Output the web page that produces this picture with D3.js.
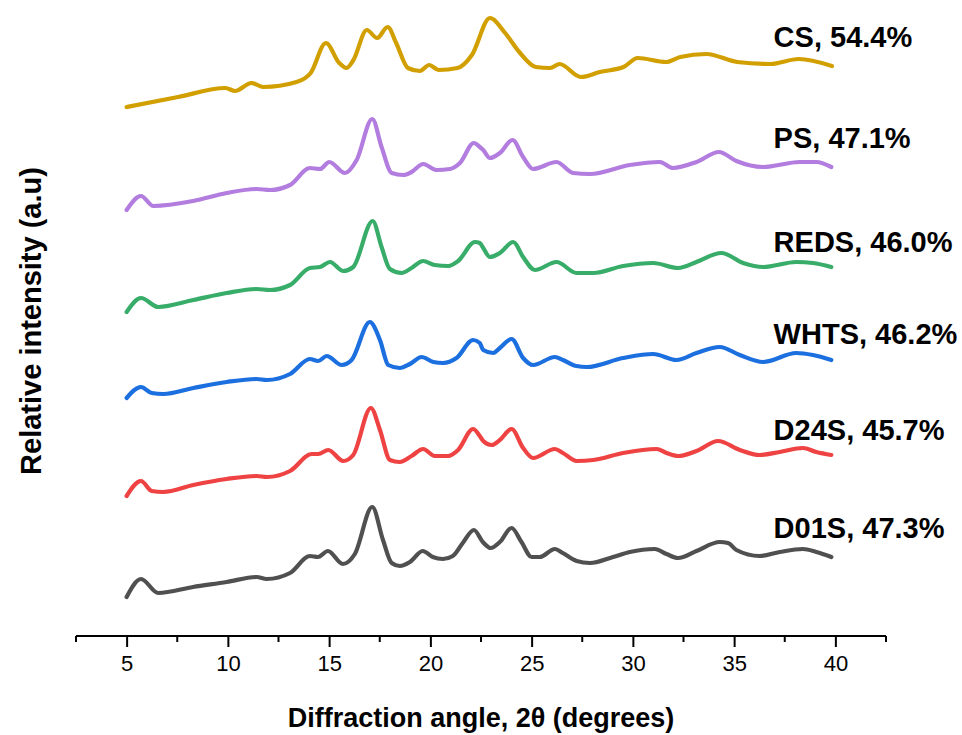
<!DOCTYPE html>
<html>
<head>
<meta charset="utf-8">
<script src="https://cdn.jsdelivr.net/npm/d3@7"></script>
<style>
  body { margin: 0; background: #fff; }
  svg { display: block; font-family: Arial, "Liberation Sans", sans-serif; }
</style>
</head>
<body>
<svg id="canvas" width="962" height="735"></svg>
<script>
// XRD patterns, [2theta, relative intensity (a.u., stacked)]
let d01s = [[5.0,39],[5.71,57],[6.56,43],[8.28,49],[9.94,54],[11.42,59],[11.92,57],[13.07,63],
  [14.05,80],[14.45,79],[14.94,85],[15.68,72],[16.27,82],[17.13,129],[17.66,96],[18.09,73],
  [18.49,70],[18.99,74],[19.62,85],[20.12,79],[20.62,77],[21.11,80],[21.6,93],[22.15,106],
  [22.59,94],[22.98,88],[23.43,94],[24.01,108],[24.5,94],[25.0,79],[25.4,79],[26.15,87],
  [26.54,83],[27.22,75],[27.88,73],[29.02,79],[29.85,84],[31.08,87],[31.66,82],[32.23,78],
  [33.14,85],[34.29,94],[34.7,93],[35.11,86],[36.26,80],[37.25,84],[38.4,87],[39.06,84],[39.8,79]];

let d24s = [[5.0,140],[5.71,155],[6.24,145],[6.81,144],[8.29,151],[9.94,157],[11.42,160],[11.92,159],
  [13.07,165],[14.14,182],[14.46,182],[14.96,186],[15.7,175],[16.19,181],[17.06,228],[17.51,206],
  [18.0,176],[18.49,174],[19.07,180],[19.64,187],[20.22,180],[20.88,180],[21.37,186],[22.11,207],
  [22.44,200],[22.61,195],[23.02,191],[23.43,196],[24.01,207],[24.58,188],[25.07,178],[26.15,187],
  [26.55,183],[27.22,175],[28.04,176],[29.52,183],[31.17,187],[31.66,183],[32.23,180],[33.14,185],
  [34.21,195],[35.28,186],[36.26,181],[37.25,184],[38.4,188],[39.06,184],[39.8,181]];

let whts = [[5.0,238],[5.71,249],[6.24,243],[6.81,242],[8.29,248],[9.94,254],[11.42,257],[11.92,256],
  [13.07,262],[14.05,277],[14.46,275],[14.88,280],[15.62,271],[16.11,276],[17.01,314],[17.51,296],
  [17.92,271],[18.49,268],[18.99,272],[19.57,279],[20.14,274],[20.63,273],[21.29,278],[22.11,296],
  [22.44,293],[22.61,286],[23.1,283],[23.43,288],[24.01,297],[24.58,278],[25.07,271],[26.15,279],
  [26.55,276],[27.22,270],[27.71,269],[29.52,278],[31.0,282],[32.15,276],[33.14,283],[34.29,289],
  [35.28,281],[36.43,274],[38.07,283],[38.89,281],[39.8,276]];

let reds = [[5.0,324],[5.71,338],[6.56,329],[8.29,336],[9.94,343],[11.42,347],[12.08,346],[13.07,351],
  [14.05,368],[14.55,369],[15.04,374],[15.7,365],[16.19,369],[17.15,415],[17.59,389],[18.0,367],
  [18.58,363],[19.07,368],[19.64,375],[20.22,371],[20.88,370],[21.37,375],[22.2,394],[22.44,393],
  [22.61,388],[22.94,379],[23.43,383],[24.09,394],[24.58,379],[25.16,366],[26.23,374],[27.22,363],
  [28.04,363],[29.52,370],[31.0,373],[32.23,368],[33.14,374],[34.37,383],[35.44,373],[36.43,369],
  [38.07,374],[38.89,373],[39.8,369]];

let ps = [[5.0,426],[5.71,440],[6.32,430],[8.29,435],[9.94,443],[11.42,447],[12.08,446],[13.07,451],
  [14.05,468],[14.55,467],[15.01,474],[15.78,463],[16.36,476],[17.13,517],[17.59,489],[18.09,463],
  [18.66,461],[19.07,464],[19.64,472],[20.31,466],[20.96,467],[21.46,473],[22.15,493],[22.44,489],
  [22.61,486],[22.94,478],[23.43,483],[24.06,496],[24.58,479],[25.07,467],[26.23,474],[27.05,463],
  [27.88,462],[29.85,471],[31.33,474],[31.98,468],[33.14,474],[34.25,484],[35.11,475],[36.43,469],
  [38.24,474],[39.06,474],[39.8,469]];

let cs = [[5.0,529],[7.54,539],[9.88,548],[10.35,545],[11.17,553],[11.75,549],[13.39,554],[14.09,563],
  [14.84,593],[15.5,573],[15.85,568],[16.2,576],[16.86,606],[17.37,598],[17.89,609],[18.31,593],
  [18.89,568],[19.48,565],[19.94,571],[20.41,566],[21.34,568],[22.05,581],[22.94,618],[23.69,603],
  [24.39,584],[25.21,569],[25.91,568],[26.38,572],[27.43,559],[28.37,564],[29.54,569],[30.24,578],
  [31.64,574],[32.34,579],[33.63,582],[35.15,574],[36.79,572],[38.19,577],[39.83,570]];

let seriesData = [d01s, d24s, whts, reds, ps, cs];
let seriesNames = ["D01S, 47.3%", "D24S, 45.7%", "WHTS, 46.2%", "REDS, 46.0%", "PS, 47.1%", "CS, 54.4%"];
let seriesColors = ["#505050", "#ef4242", "#1c6fdf", "#38ad69", "#b27ddf", "#d29f00"];
let labelLevels = [98, 196, 292, 384, 488, 589]; // label baseline, in intensity units
let xTicks = [5, 10, 15, 20, 25, 30, 35, 40];
let xMinorTicks = [2.5, 7.5, 12.5, 17.5, 22.5, 27.5, 32.5, 37.5, 42.5];

let canvas = d3.select("#canvas");

let x = d3.scaleLinear().domain([2.5, 42.5]).range([76, 886]);
let y = d3.scaleLinear().domain([0, 636]).range([636, 0]);

let line = d3.line()
  .x((d) => x(d[0]))
  .y((d) => y(d[1]))
  .curve(d3.curveMonotoneX);

// curves
canvas.selectAll("path.xrd")
  .data(seriesData)
  .enter()
  .append("path")
  .attr("class", "xrd")
  .attr("d", line)
  .attr("fill", "none")
  .attr("stroke", (d, i) => seriesColors[i])
  .attr("stroke-width", 4.2)
  .attr("stroke-linejoin", "round")
  .attr("stroke-linecap", "round");

// sample labels
canvas.selectAll("text.lbl")
  .data(seriesNames)
  .enter()
  .append("text")
  .attr("class", "lbl")
  .attr("x", x(36.95))
  .attr("y", (d, i) => y(labelLevels[i]))
  .attr("font-size", 29)
  .attr("font-weight", "bold")
  .attr("fill", "#000")
  .text((d) => d);

// x axis
let xAxis = canvas.append("g")
  .attr("transform", "translate(0," + y(0) + ")");

xAxis.call(d3.axisBottom(x).tickValues(xTicks).tickSize(11).tickPadding(8).tickSizeOuter(0));

xAxis.selectAll("line.minor")
  .data(xMinorTicks)
  .enter()
  .append("line")
  .attr("class", "minor")
  .attr("x1", (d) => x(d))
  .attr("x2", (d) => x(d))
  .attr("y1", 0)
  .attr("y2", 6)
  .attr("stroke", "#000")
  .attr("stroke-width", 2);

xAxis.select(".domain")
  .attr("d", "M" + x(2.5) + ",0H" + x(42.5))
  .attr("stroke-width", 2);
xAxis.selectAll(".tick line").attr("stroke-width", 2);
xAxis.selectAll(".tick text")
  .attr("font-size", 22)
  .attr("font-family", "Arial, 'Liberation Sans', sans-serif")
  .attr("fill", "#000");

// axis titles
canvas.append("text")
  .attr("x", (x(2.5) + x(42.5)) / 2)
  .attr("y", 727)
  .attr("text-anchor", "middle")
  .attr("font-size", 27)
  .attr("font-weight", "bold")
  .text("Diffraction angle, 2\u03b8 (degrees)");

canvas.append("text")
  .attr("transform", "translate(41,321) rotate(-90)")
  .attr("text-anchor", "middle")
  .attr("font-size", 29)
  .attr("font-weight", "bold")
  .text("Relative intensity (a.u)");
</script>
</body>
</html>
